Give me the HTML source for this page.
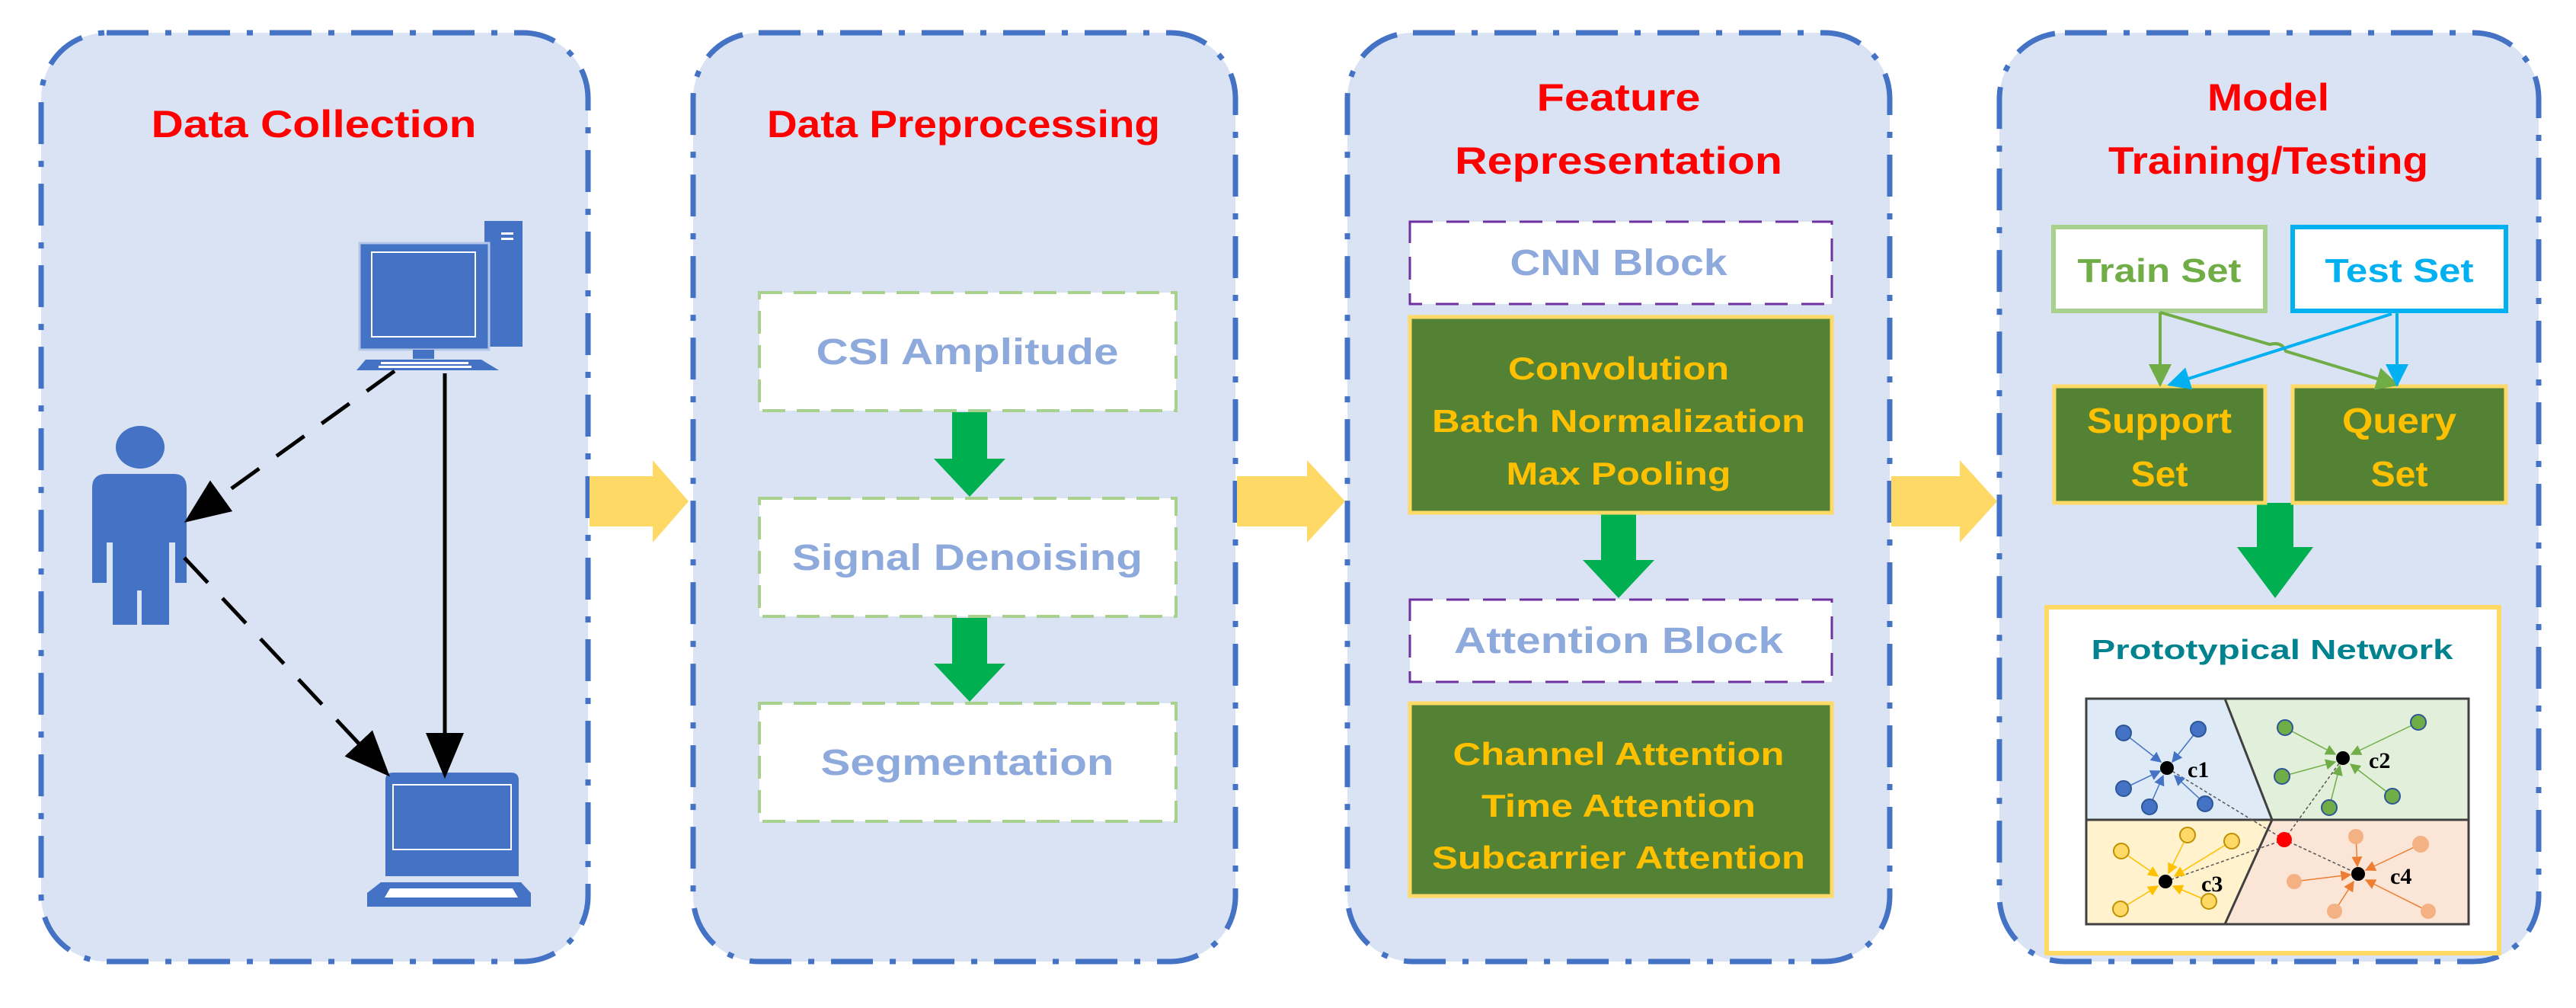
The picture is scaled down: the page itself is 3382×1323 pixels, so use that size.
<!DOCTYPE html>
<html><head><meta charset="utf-8"><style>html,body{margin:0;padding:0;background:#fff}svg{display:block}</style></head><body>
<svg width="3382" height="1323" viewBox="0 0 3382 1323" xmlns="http://www.w3.org/2000/svg" font-family="Liberation Sans, sans-serif" font-weight="bold">
<defs>
<marker id="ag" viewBox="0 0 10 10" refX="9" refY="5" markerWidth="34" markerHeight="30" orient="auto" markerUnits="userSpaceOnUse"><path d="M0,0 L10,5 L0,10 z" fill="#70AD47"/></marker>
<marker id="ac" viewBox="0 0 10 10" refX="9" refY="5" markerWidth="34" markerHeight="30" orient="auto" markerUnits="userSpaceOnUse"><path d="M0,0 L10,5 L0,10 z" fill="#00B0F0"/></marker>
<marker id="bb" markerWidth="60" markerHeight="50" refX="50" refY="25" orient="auto" markerUnits="userSpaceOnUse" viewBox="0 0 60 50"><path d="M0,0 L60,25 L0,50 z" fill="#000"/></marker>
<marker id="s1" viewBox="0 0 10 10" refX="9" refY="5" markerWidth="14" markerHeight="14" orient="auto" markerUnits="userSpaceOnUse"><path d="M0,0 L10,5 L0,10 z" fill="#4472C4"/></marker>
<marker id="s2" viewBox="0 0 10 10" refX="9" refY="5" markerWidth="14" markerHeight="14" orient="auto" markerUnits="userSpaceOnUse"><path d="M0,0 L10,5 L0,10 z" fill="#70AD47"/></marker>
<marker id="s3" viewBox="0 0 10 10" refX="9" refY="5" markerWidth="14" markerHeight="14" orient="auto" markerUnits="userSpaceOnUse"><path d="M0,0 L10,5 L0,10 z" fill="#FFC000"/></marker>
<marker id="s4" viewBox="0 0 10 10" refX="9" refY="5" markerWidth="14" markerHeight="14" orient="auto" markerUnits="userSpaceOnUse"><path d="M0,0 L10,5 L0,10 z" fill="#ED7D31"/></marker>
</defs>
<g fill="#DAE3F3" stroke="#4472C4" stroke-width="7" stroke-dasharray="55,22,8,22">
<rect x="54" y="43" width="718" height="1219" rx="86"/>
<rect x="910" y="43" width="712" height="1219" rx="86"/>
<rect x="1769" y="43" width="712" height="1219" rx="86"/>
<rect x="2625" y="43" width="708" height="1219" rx="86"/>
</g>
<g fill="#FFD966">
<path d="M774,625 L857,625 L857,604 L904,658 L857,712 L857,691 L774,691 z"/>
<path d="M1624,625 L1716,625 L1716,604 L1766,658 L1716,712 L1716,691 L1624,691 z"/>
<path d="M2483,625 L2573,625 L2573,604 L2622,658 L2573,712 L2573,691 L2483,691 z"/>
</g>
<g fill="#FF0000" font-size="50" text-anchor="middle">
<text x="412" y="180" textLength="427" lengthAdjust="spacingAndGlyphs">Data Collection</text>
<text x="1265" y="180" textLength="516" lengthAdjust="spacingAndGlyphs">Data Preprocessing</text>
<text x="2125" y="145" textLength="215" lengthAdjust="spacingAndGlyphs">Feature</text>
<text x="2125" y="228" textLength="430" lengthAdjust="spacingAndGlyphs">Representation</text>
<text x="2978" y="145" textLength="160" lengthAdjust="spacingAndGlyphs">Model</text>
<text x="2978" y="228" textLength="420" lengthAdjust="spacingAndGlyphs">Training/Testing</text>
</g>
<!-- panel 1 icons -->
<g fill="#4472C4">
<rect x="636" y="290" width="50" height="165"/>
<rect x="472" y="319" width="170" height="140" stroke="#B4C7E7" stroke-width="3"/>
<rect x="488" y="331" width="136" height="111" fill="none" stroke="#fff" stroke-width="2"/>
<rect x="542" y="459" width="28" height="12"/>
<path d="M480,472 L632,472 L655,486 L468,486 z"/>
<ellipse cx="184" cy="587" rx="32" ry="28"/>
<path d="M121,640 Q121,622 140,622 L228,622 Q245,622 245,640 L245,765 L230,765 L230,712 L222,712 L222,820 L186,820 L186,775 L180,775 L180,820 L148,820 L148,712 L140,712 L140,765 L121,765 z"/>
<path d="M506,1024 Q506,1014 516,1014 L671,1014 Q681,1014 681,1024 L681,1150 L506,1150 z"/>
<rect x="516" y="1030" width="155" height="85" fill="none" stroke="#fff" stroke-width="2"/>
<path d="M500,1158 L684,1158 L697,1172 L697,1190 L482,1190 L482,1172 z"/>
<path d="M505,1178 L680,1178 L673,1166 L512,1166 z" fill="#fff"/>
</g>
<g fill="#fff"><rect x="658" y="305" width="16" height="3"/><rect x="658" y="312" width="16" height="3"/>
<rect x="500" y="475" width="115" height="3"/><rect x="497" y="480" width="122" height="3"/></g>
<g stroke="#000" stroke-width="5" fill="none">
<line x1="518" y1="487" x2="250" y2="680" stroke-dasharray="45,28" marker-end="url(#bb)"/>
<line x1="242" y1="732" x2="505" y2="1012" stroke-dasharray="45,28" marker-end="url(#bb)"/>
<line x1="584" y1="490" x2="584" y2="1012" marker-end="url(#bb)"/>
</g>
<!-- panel 2 -->
<g fill="#fff" stroke="#A9D18E" stroke-width="4" stroke-dasharray="30,15">
<rect x="997" y="384" width="547" height="155"/>
<rect x="997" y="654" width="547" height="155"/>
<rect x="997" y="923" width="547" height="155"/>
</g>
<g fill="#00B050">
<path d="M1250,541 L1296,541 L1296,602 L1320,602 L1273,652 L1226,602 L1250,602 z"/>
<path d="M1250,811 L1296,811 L1296,871 L1320,871 L1273,921 L1226,871 L1250,871 z"/>
<path d="M2102,675 L2148,675 L2148,735 L2172,735 L2125,785 L2078,735 L2102,735 z"/>
<path d="M2963,660 L3011,660 L3011,718 L3037,718 L2987,785 L2937,718 L2963,718 z"/>
</g>
<!-- panel 3 -->
<g fill="#fff" stroke="#7030A0" stroke-width="3" stroke-dasharray="30,18">
<rect x="1851" y="291" width="554" height="108"/>
<rect x="1851" y="787" width="554" height="108"/>
</g>
<g fill="#548235" stroke="#FFD966" stroke-width="5">
<rect x="1851" y="416" width="554" height="257"/>
<rect x="1851" y="923" width="554" height="253"/>
</g>
<g fill="#8EA9DB" font-size="48" text-anchor="middle">
<text x="1270" y="478" textLength="397" lengthAdjust="spacingAndGlyphs">CSI Amplitude</text>
<text x="1270" y="748" textLength="460" lengthAdjust="spacingAndGlyphs">Signal Denoising</text>
<text x="1270" y="1017" textLength="385" lengthAdjust="spacingAndGlyphs">Segmentation</text>
<text x="2125" y="361" textLength="285" lengthAdjust="spacingAndGlyphs">CNN Block</text>
<text x="2125" y="857" textLength="432" lengthAdjust="spacingAndGlyphs">Attention Block</text>
</g>
<g fill="#FFC000" font-size="42" text-anchor="middle">
<text x="2125" y="498" textLength="290" lengthAdjust="spacingAndGlyphs">Convolution</text>
<text x="2125" y="567" textLength="490" lengthAdjust="spacingAndGlyphs">Batch Normalization</text>
<text x="2125" y="636" textLength="295" lengthAdjust="spacingAndGlyphs">Max Pooling</text>
<text x="2125" y="1004" textLength="435" lengthAdjust="spacingAndGlyphs">Channel Attention</text>
<text x="2125" y="1072" textLength="360" lengthAdjust="spacingAndGlyphs">Time Attention</text>
<text x="2125" y="1140" textLength="490" lengthAdjust="spacingAndGlyphs">Subcarrier Attention</text>
</g>
<!-- panel 4 -->
<rect x="2696" y="298" width="278" height="110" fill="#fff" stroke="#A9D18E" stroke-width="6"/>
<rect x="3010" y="298" width="280" height="110" fill="#fff" stroke="#00B0F0" stroke-width="6"/>
<text x="2835" y="370" fill="#70AD47" font-size="44" text-anchor="middle" textLength="215" lengthAdjust="spacingAndGlyphs">Train Set</text>
<text x="3150" y="370" fill="#00B0F0" font-size="44" text-anchor="middle" textLength="195" lengthAdjust="spacingAndGlyphs">Test Set</text>
<g fill="#548235" stroke="#FFD966" stroke-width="5">
<rect x="2697" y="507" width="277" height="153"/>
<rect x="3010" y="507" width="280" height="153"/>
</g>
<g fill="#FFC000" font-size="46" text-anchor="middle">
<text x="2835" y="568" textLength="190" lengthAdjust="spacingAndGlyphs">Support</text>
<text x="2835" y="638" textLength="75" lengthAdjust="spacingAndGlyphs">Set</text>
<text x="3150" y="568" textLength="150" lengthAdjust="spacingAndGlyphs">Query</text>
<text x="3150" y="638" textLength="75" lengthAdjust="spacingAndGlyphs">Set</text>
</g>
<g stroke-width="4" fill="none">
<line x1="2836" y1="410" x2="2836" y2="505" stroke="#70AD47" marker-end="url(#ag)"/>
<path d="M2836,410 L2980,452 Q2996,448 3001,461 L3147,505" stroke="#70AD47" marker-end="url(#ag)"/>
<line x1="3147" y1="410" x2="3147" y2="505" stroke="#00B0F0" marker-end="url(#ac)"/>
<line x1="3140" y1="412" x2="2848" y2="505" stroke="#00B0F0" marker-end="url(#ac)"/>
</g>
<rect x="2687" y="797" width="594" height="454" fill="#fff" stroke="#FFD966" stroke-width="6"/>
<text x="2983" y="865" fill="#00838F" font-size="36" text-anchor="middle" textLength="475" lengthAdjust="spacingAndGlyphs">Prototypical Network</text>
<path d="M2739,917 L2921,917 L2983,1076 L2739,1076 z" fill="#DEEAF6"/>
<path d="M2921,917 L3241,917 L3241,1076 L2983,1076 z" fill="#E2EFDA"/>
<path d="M2739,1076 L2983,1076 L2921,1213 L2739,1213 z" fill="#FFF2CC"/>
<path d="M2983,1076 L3241,1076 L3241,1213 L2921,1213 z" fill="#FBE5D6"/>
<g stroke="#404040" stroke-width="3" fill="none">
<rect x="2739" y="917" width="502" height="296"/>
<line x1="2739" y1="1076" x2="3241" y2="1076"/>
<polyline points="2921,917 2983,1076 2921,1213"/>
</g>
<g stroke="#555" stroke-width="1.5" stroke-dasharray="4,3" fill="none">
<line x1="2999" y1="1102" x2="2845" y2="1008"/>
<line x1="2999" y1="1102" x2="3076" y2="995"/>
<line x1="2999" y1="1102" x2="2843" y2="1157"/>
<line x1="2999" y1="1102" x2="3096" y2="1147"/>
</g>
<g stroke="#4472C4" stroke-width="1.5" marker-end="url(#s1)">
<line x1="2788" y1="962" x2="2837" y2="1000"/><line x1="2886" y1="957" x2="2852" y2="1000"/>
<line x1="2788" y1="1035" x2="2836" y2="1012"/><line x1="2822" y1="1059" x2="2840" y2="1018"/><line x1="2895" y1="1055" x2="2855" y2="1018"/>
</g>
<g fill="#4472C4" stroke="#2F5597" stroke-width="2"><circle cx="2788" cy="962" r="10"/><circle cx="2886" cy="957" r="10"/><circle cx="2788" cy="1035" r="10"/><circle cx="2822" cy="1059" r="10"/><circle cx="2895" cy="1055" r="10"/></g>
<g stroke="#70AD47" stroke-width="1.5" marker-end="url(#s2)">
<line x1="3000" y1="955" x2="3066" y2="990"/><line x1="3175" y1="948" x2="3087" y2="990"/><line x1="2996" y1="1019" x2="3066" y2="1000"/><line x1="3058" y1="1060" x2="3072" y2="1005"/><line x1="3141" y1="1045" x2="3086" y2="1003"/>
</g>
<g fill="#70AD47" stroke="#2F5597" stroke-width="2"><circle cx="3000" cy="955" r="10"/><circle cx="3175" cy="948" r="10"/><circle cx="2996" cy="1019" r="10"/><circle cx="3058" cy="1060" r="10"/><circle cx="3141" cy="1045" r="10"/></g>
<g stroke="#FFC000" stroke-width="1.5" marker-end="url(#s3)">
<line x1="2785" y1="1117" x2="2833" y2="1150"/><line x1="2872" y1="1096" x2="2847" y2="1146"/><line x1="2930" y1="1104" x2="2855" y2="1150"/><line x1="2784" y1="1193" x2="2833" y2="1163"/><line x1="2900" y1="1183" x2="2853" y2="1163"/>
</g>
<g fill="#FFD966" stroke="#BF9000" stroke-width="2"><circle cx="2785" cy="1117" r="10"/><circle cx="2872" cy="1096" r="10"/><circle cx="2930" cy="1104" r="10"/><circle cx="2784" cy="1193" r="10"/><circle cx="2900" cy="1183" r="10"/></g>
<g stroke="#ED7D31" stroke-width="1.5" marker-end="url(#s4)">
<line x1="3093" y1="1098" x2="3095" y2="1137"/><line x1="3178" y1="1108" x2="3106" y2="1142"/><line x1="3012" y1="1157" x2="3086" y2="1148"/><line x1="3065" y1="1196" x2="3090" y2="1157"/><line x1="3188" y1="1196" x2="3106" y2="1155"/>
</g>
<g fill="#F4B183"><circle cx="3093" cy="1098" r="10"/><circle cx="3178" cy="1108" r="11"/><circle cx="3012" cy="1157" r="10"/><circle cx="3065" cy="1196" r="10"/><circle cx="3188" cy="1196" r="10"/></g>
<g fill="#000"><circle cx="2845" cy="1008" r="9"/><circle cx="3076" cy="995" r="9"/><circle cx="2843" cy="1157" r="9"/><circle cx="3096" cy="1147" r="9"/></g>
<circle cx="2999" cy="1102" r="10" fill="#FF0000"/>
<g font-family="Liberation Serif, serif" font-size="30" fill="#000">
<text x="2872" y="1020">c1</text><text x="3110" y="1008">c2</text><text x="2890" y="1170">c3</text><text x="3138" y="1160">c4</text>
</g>
</svg>
</body></html>
